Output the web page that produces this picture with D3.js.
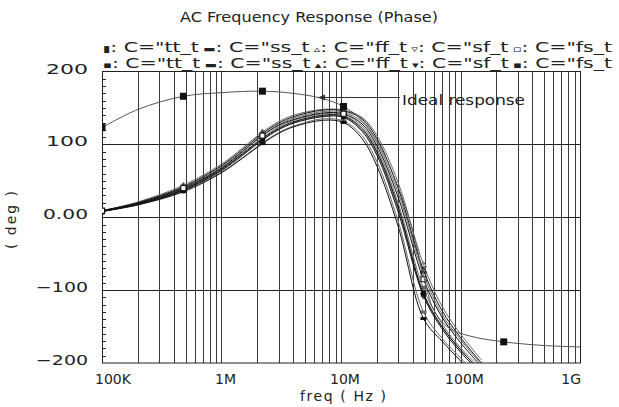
<!DOCTYPE html>
<html><head><meta charset="utf-8">
<script src="https://cdn.jsdelivr.net/npm/d3@7"></script>
<style>body{margin:0;background:#fff}svg{display:block}</style>
</head><body><svg id="c" width="619" height="407"></svg>
<script>
// ---------- data ----------
const freqs = [1e5, 2e5, 4.8e5, 1e6, 1.5e6, 2.2e6, 3e6, 4e6, 7e6, 1.05e7, 1.5e7, 2e7, 3e7, 4.9e7, 7e7, 1e8, 1.5e8];
const markerFreqs = [1e5, 4.8e5, 2.2e6, 1.05e7, 4.9e7];
const cornerNames = ["tt_t", "ss_t", "ff_t", "sf_t", "fs_t"];
// set A (black)
const phaseTT = [8, 18, 38, 66, 87, 108, 122, 131, 140, 139, 122, 90, 15, -105, -150, -182, -212];
const phaseSS = [8, 17, 35, 61, 81, 101, 115, 124, 133, 130, 108, 70, -12, -139, -170, -197, -225];
const phaseFF = [9, 20, 42, 71, 93, 115, 129, 138, 147, 146, 135, 108, 40, -73, -128, -165, -200];
const phaseSF = [8, 18, 37, 64, 85, 106, 120, 129, 138, 137, 118, 85, 8, -108, -153, -185, -215];
const phaseFS = [9, 19, 40, 68, 90, 112, 126, 134, 143, 142, 128, 98, 28, -85, -137, -172, -205];
// set B (grey)
const phaseTT2 = [8, 19, 39, 67, 88, 109, 124, 133, 142, 141, 125, 94, 20, -98, -146, -179, -208];
const phaseSS2 = [8, 17, 36, 62, 82, 102, 116, 125, 135, 132, 112, 76, -5, -130, -166, -193, -222];
const phaseFF2 = [9, 21, 44, 73, 95, 117, 131, 140, 148, 147, 137, 112, 48, -65, -122, -160, -196];
const phaseSF2 = [8, 18, 38, 65, 86, 107, 121, 130, 139, 138, 120, 88, 12, -104, -150, -182, -212];
const phaseFS2 = [9, 20, 41, 70, 91, 113, 127, 136, 145, 144, 131, 102, 34, -78, -133, -168, -202];
// ideal response
const idealFreq = [1e5, 2e5, 4.8e5, 1e6, 2.2e6, 4e6, 7e6, 1.05e7, 1.5e7, 2e7, 3e7, 4e7, 4.9e7, 6e7, 8e7, 1.2e8, 2.3e8, 5e8, 1e9];
const idealPhase = [123, 148, 166, 171, 173, 170, 163, 152, 133, 105, 42, -20, -80, -128, -152, -163, -171, -176, -178];
const idealMarkerFreqs = [1e5, 4.8e5, 2.2e6, 1.05e7, 2.3e8];
// ticks / labels
const yTickValues = [200, 100, 0, -100, -200];
const yTickLabels = ["200", "100", "0.00", "\u2212100", "\u2212200"];
const yGridValues = [100, 0, -100];
const xTickValues = [1e5, 1e6, 1e7, 1e8, 1e9];
const xTickLabels = ["100K", "1M", "10M", "100M", "1G"];
const legendSym1 = ["\u25AE", "\u25AC", "\u25B5", "\u25BF", "\u25AB"];
const legendSym2 = ["\u25AA", "\u25AC", "\u25B4", "\u25BE", "\u25AA"];

// ---------- chart ----------
const svg = d3.select("#c");
const FONT = "DejaVu Sans, sans-serif";
const TXT = "#222";
const x = d3.scaleLog().domain([1e5, 1e9]).range([102, 580]);
const y = d3.scaleLinear().domain([-200, 200]).range([363, 71.5]);

svg.append("defs").append("clipPath").attr("id", "clip")
  .append("rect").attr("x", 102).attr("y", 71.5).attr("width", 478).attr("height", 291.5);

// vertical grid
svg.append("g").selectAll("line").data(x.ticks()).join("line")
  .attr("x1", d => Math.round(x(d)) + 0.5).attr("x2", d => Math.round(x(d)) + 0.5)
  .attr("y1", y(200)).attr("y2", y(-200))
  .attr("stroke", "#3a3a3a").attr("stroke-width", 1);
// horizontal grid
svg.append("g").selectAll("line").data(yGridValues).join("line")
  .attr("x1", x(1e5)).attr("x2", x(1e9))
  .attr("y1", d => Math.round(y(d)) + 0.5).attr("y2", d => Math.round(y(d)) + 0.5)
  .attr("stroke", "#222").attr("stroke-width", 1);
// frame
svg.append("rect").attr("x", 102.5).attr("y", 71.5).attr("width", 478).attr("height", 291.5)
  .attr("fill", "none").attr("stroke", "#222").attr("stroke-width", 1);
// left minor ticks
svg.append("g").selectAll("line").data(d3.range(-190, 200, 10)).join("line")
  .attr("x1", 102).attr("x2", 106)
  .attr("y1", d => Math.round(y(d)) + 0.5).attr("y2", d => Math.round(y(d)) + 0.5)
  .attr("stroke", "#222");

const line = d3.line().x(d => x(d[0])).y(d => y(d[1])).curve(d3.curveCatmullRom.alpha(0.5));
const plot = svg.append("g").attr("clip-path", "url(#clip)");

const setA = [phaseTT, phaseSS, phaseFF, phaseSF, phaseFS];
const setB = [phaseTT2, phaseSS2, phaseFF2, phaseSF2, phaseFS2];

function marker(g, kind, px, py, color) {
  if (kind === 0) g.append("rect").attr("x", px - 2.5).attr("y", py - 3).attr("width", 5).attr("height", 6).attr("fill", color);
  else if (kind === 1) g.append("rect").attr("x", px - 3).attr("y", py - 1.5).attr("width", 6).attr("height", 3).attr("fill", color);
  else if (kind === 2) g.append("path").attr("d", `M${px},${py-3}L${px+3},${py+2.5}L${px-3},${py+2.5}Z`).attr("fill", "none").attr("stroke", color);
  else if (kind === 3) g.append("path").attr("d", `M${px},${py+3}L${px+3},${py-2.5}L${px-3},${py-2.5}Z`).attr("fill", "none").attr("stroke", color);
  else g.append("rect").attr("x", px - 2.5).attr("y", py - 2.5).attr("width", 5).attr("height", 5).attr("fill", "#fff").attr("stroke", color);
}

[[setB, "#6a6a6a"], [setA, "#111"]].forEach(([set, color]) => {
  set.forEach((vals, i) => {
    const pts = freqs.map((f, j) => [f, vals[j]]);
    plot.append("path").attr("d", line(pts)).attr("fill", "none").attr("stroke", color).attr("stroke-width", 1);
    pts.filter(p => markerFreqs.includes(p[0])).forEach(p => marker(plot, i, x(p[0]), y(p[1]), color));
  });
});

// ideal
const idealPts = idealFreq.map((f, j) => [f, idealPhase[j]]);
plot.append("path").attr("d", line(idealPts)).attr("fill", "none").attr("stroke", "#555").attr("stroke-width", 1);
idealPts.filter(p => idealMarkerFreqs.includes(p[0])).forEach(p =>
  plot.append("rect").attr("x", x(p[0]) - 3.5).attr("y", y(p[1]) - 3.5).attr("width", 7).attr("height", 7).attr("fill", "#111"));

// annotation
const ay = 97;
svg.append("line").attr("x1", 322).attr("x2", 400).attr("y1", ay + 0.5).attr("y2", ay + 0.5).attr("stroke", "#333");
svg.append("path").attr("d", `M318,${ay+0.5}L325,${ay-2.5}L325,${ay+3.5}Z`).attr("fill", "#333");
svg.append("text").attr("x", 402).attr("y", 105).attr("font-family", FONT).attr("font-size", 14)
  .attr("textLength", 123).attr("lengthAdjust", "spacingAndGlyphs").attr("fill", TXT).text("Ideal response");

// title & legend
svg.append("text").attr("x", 180).attr("y", 22).attr("font-family", FONT).attr("font-size", 14)
  .attr("textLength", 258).attr("lengthAdjust", "spacingAndGlyphs").attr("fill", TXT).text("AC Frequency Response (Phase)");
[legendSym1, legendSym2].forEach((syms, r) => {
  const t = svg.append("text").attr("x", 103).attr("y", 52 + r * 16).attr("font-family", FONT).attr("font-size", 14)
    .attr("textLength", 509).attr("lengthAdjust", "spacingAndGlyphs").attr("fill", TXT);
  cornerNames.forEach((n, i) => {
    t.append("tspan").attr("font-size", 9).text((i ? " " : "") + syms[i]);
    t.append("tspan").text(`: C="${n}`);
  });
});

// y labels
const labelLen = s => s.split("").reduce((a, c) => a + (c === "." ? 3 : c === "\u2212" ? 10 : 14), 0);
svg.append("g").selectAll("text").data(yTickValues).join("text")
  .attr("x", 88).attr("y", d => y(d) + 2).attr("text-anchor", "end")
  .attr("font-family", FONT).attr("font-size", 14).attr("fill", TXT)
  .attr("textLength", (d, i) => labelLen(yTickLabels[i])).attr("lengthAdjust", "spacingAndGlyphs")
  .text((d, i) => yTickLabels[i]);
svg.append("text").attr("transform", "translate(16,220) rotate(-90)").attr("text-anchor", "middle")
  .attr("font-family", FONT).attr("font-size", 14).attr("fill", TXT)
  .attr("textLength", 58).attr("lengthAdjust", "spacing").text("( deg )");

// x labels
svg.append("g").selectAll("text").data(xTickValues).join("text")
  .attr("x", (d, i) => i === 0 ? 95 : i === 4 ? 581 : x(d) + 4)
  .attr("y", 384)
  .attr("text-anchor", (d, i) => i === 0 ? "start" : i === 4 ? "end" : "middle")
  .attr("font-family", FONT).attr("font-size", 14).attr("fill", TXT)
  .text((d, i) => xTickLabels[i]);
svg.append("text").attr("x", 300).attr("y", 401)
  .attr("font-family", FONT).attr("font-size", 14).attr("fill", TXT)
  .attr("textLength", 86).attr("lengthAdjust", "spacing").text("freq ( Hz )");
</script></body></html>
